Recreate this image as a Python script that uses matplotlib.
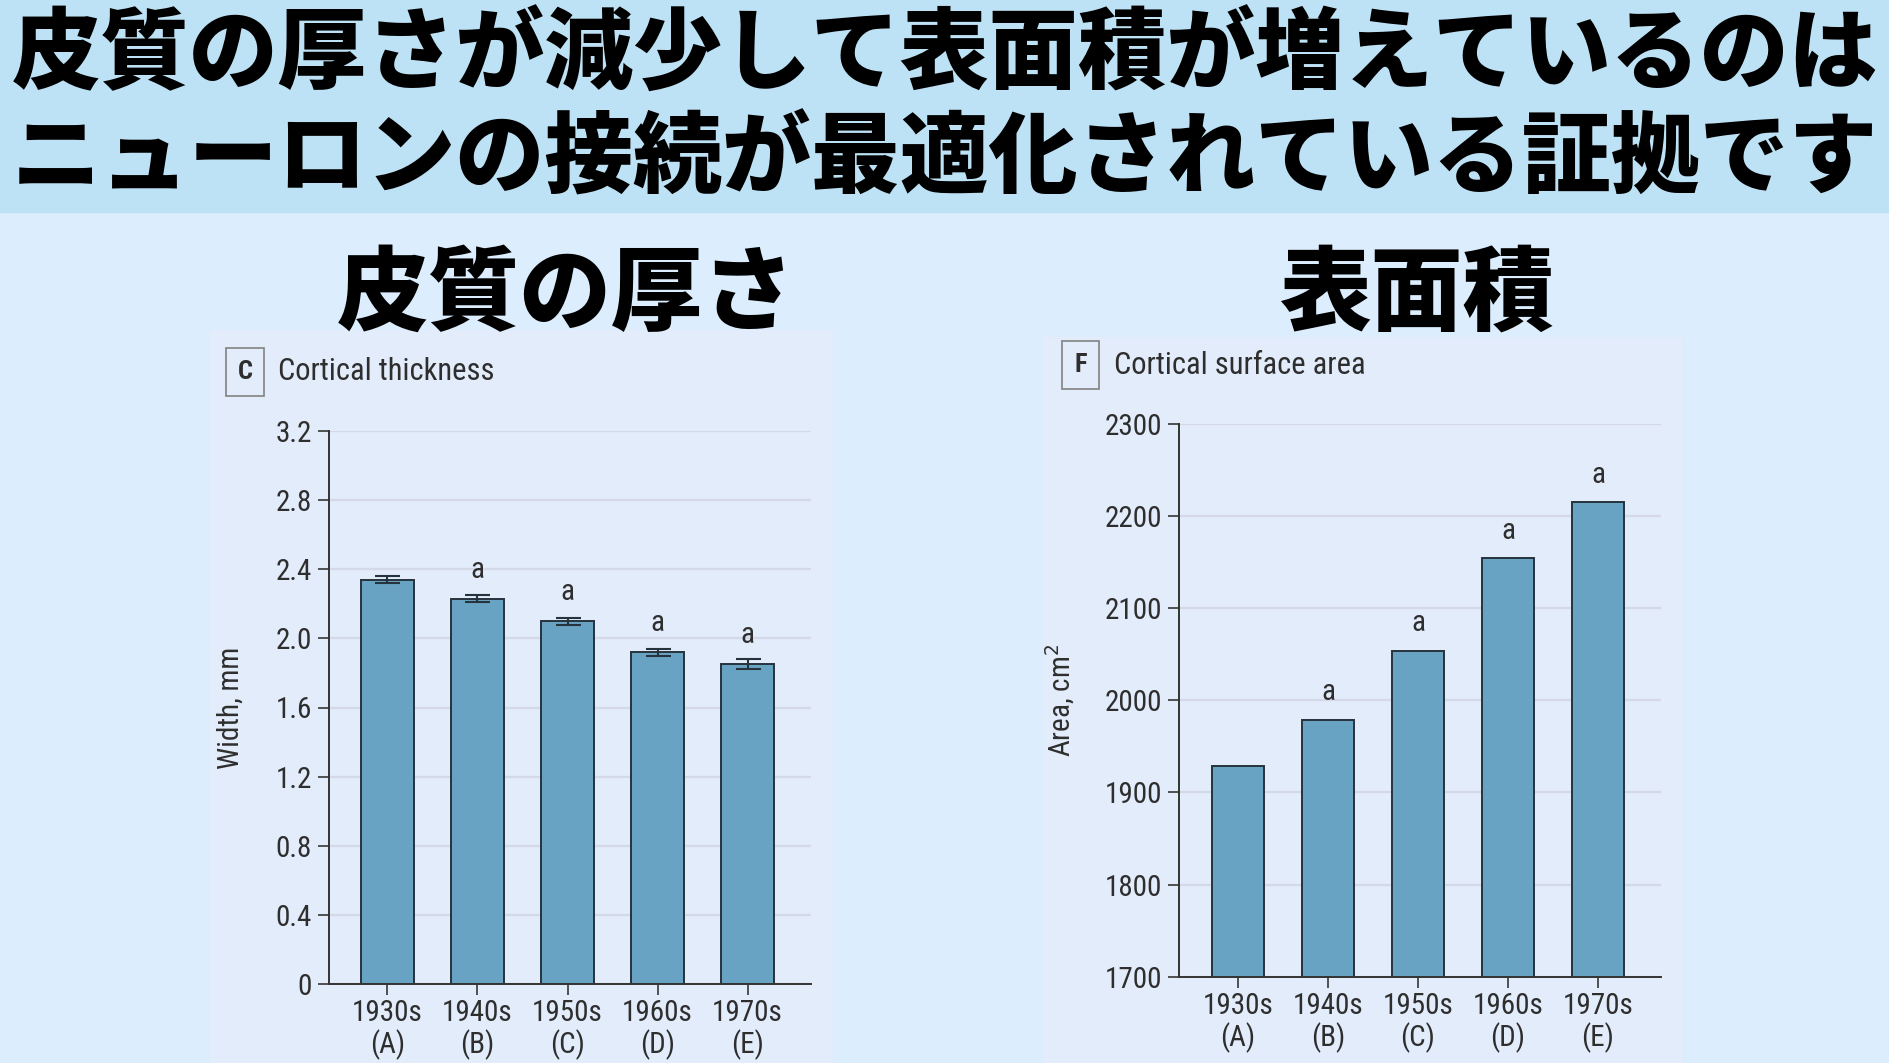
import matplotlib
matplotlib.use('Agg')
import matplotlib.pyplot as plt
from matplotlib import font_manager
from matplotlib.patches import Rectangle
import numpy as np

# data
decades = ['1930s', '1940s', '1950s', '1960s', '1970s']
groups = ['A', 'B', 'C', 'D', 'E']
thickness = [2.34, 2.23, 2.10, 1.92, 1.85]
thickness_err = [0.02, 0.02, 0.02, 0.02, 0.03]
thickness_marks = ['', 'a', 'a', 'a', 'a']
area = [1929, 1979, 2054, 2154, 2215]
area_marks = ['', 'a', 'a', 'a', 'a']

header_lines = ['皮質の厚さが減少して表面積が増えているのは',
                'ニューロンの接続が最適化されている証拠です']
left_heading = '皮質の厚さ'
right_heading = '表面積'

W, H = 1890, 1063
def fx(px):
    return px / W
def fy(py):
    return 1 - py / H

# a narrow sans for the chart text, if one is around
names = {f.name for f in font_manager.fontManager.ttflist}
narrow = [n for n in ['Roboto Condensed', 'Liberation Sans Narrow',
                      'Open Sans Condensed', 'DejaVu Sans Condensed'] if n in names]
jp = ['Noto Sans CJK JP', 'DejaVu Sans']
latin = narrow[:1] + ['DejaVu Sans']
plt.rcParams['font.family'] = latin
plt.rcParams['font.stretch'] = 'condensed'

text_c = '#2e2e2e'
bar_c = '#69a3c3'
edge_c = '#26323c'
grid_c = '#d3d9e6'
fs = 21

fig = plt.figure(figsize=(18.9, 10.63), dpi=100)
fig.patch.set_facecolor('#dcedfd')

# header band and the two pasted panels
fig.add_artist(Rectangle((0, fy(212)), 1, 212 / H, transform=fig.transFigure,
                         color='#bee2f5', zorder=0))
fig.add_artist(Rectangle((fx(210), 0), (832 - 210) / W, (H - 330) / H,
                         transform=fig.transFigure, color='#e3ecfb', zorder=0))
fig.add_artist(Rectangle((fx(1043), 0), (1682 - 1043) / W, (H - 337) / H,
                         transform=fig.transFigure, color='#e3ecfb', zorder=0))

fig.text(0.5, fy(56), header_lines[0], ha='center', va='center', fontsize=64,
         fontweight='black', family=jp, color='black')
fig.text(0.5, fy(160), header_lines[1], ha='center', va='center', fontsize=64,
         fontweight='black', family=jp, color='black')

fig.text(fx(566), fy(295), left_heading, ha='center', va='center', fontsize=66,
         fontweight='black', family=jp, color='black')
fig.text(fx(1416), fy(295), right_heading, ha='center', va='center', fontsize=66,
         fontweight='black', family=jp, color='black')


def panel_title(x_box, x_text, y, letter, title):
    fig.text(fx(x_box), fy(y), letter, ha='center', va='center', fontsize=fs - 2,
             fontweight='bold', color=text_c,
             bbox=dict(boxstyle='square,pad=0.45', fc='none', ec='#8a8a8a', lw=1.3))
    fig.text(fx(x_text), fy(y), title, ha='left', va='center', fontsize=fs + 1,
             color=text_c)


def style_axes(ax):
    ax.set_facecolor('none')
    for s in ['top', 'right']:
        ax.spines[s].set_visible(False)
    for s in ['left', 'bottom']:
        ax.spines[s].set_color('#333333')
        ax.spines[s].set_linewidth(1.4)
    ax.yaxis.grid(True, color=grid_c, lw=1.6)
    ax.set_axisbelow(True)
    ax.tick_params(length=8, width=1.3, color='#444444', labelsize=fs,
                   labelcolor=text_c, pad=4)
    ax.tick_params(axis='x', pad=3)
    ax.set_xticks(np.arange(len(decades)))
    ax.set_xticklabels([f'{d}\n({g})' for d, g in zip(decades, groups)],
                       linespacing=1.08)


x = np.arange(len(decades))

# left: cortical thickness
ax1 = fig.add_axes([fx(328.6), fy(984), (811 - 328.6) / W, (984 - 431) / H])
ax1.bar(x, thickness, width=0.58, color=bar_c, edgecolor=edge_c, linewidth=1.4,
        yerr=thickness_err, capsize=9,
        error_kw=dict(ecolor=edge_c, elinewidth=1.5, capthick=1.5))
ax1.set_xlim(-0.654, 4.705)
ax1.set_ylim(0, 3.2)
yt = np.arange(0, 3.21, 0.4)
ax1.set_yticks(yt)
ax1.set_yticklabels(['0' if v == 0 else f'{v:.1f}' for v in yt])
style_axes(ax1)
ax1.set_ylabel('Width, mm', fontsize=fs, color=text_c)
ax1.yaxis.set_label_coords(-0.175, 0.5)
for xi, v, e, m in zip(x, thickness, thickness_err, thickness_marks):
    if m:
        ax1.annotate(m, (xi, v), xytext=(0, 15), textcoords='offset points',
                     ha='center', va='baseline', fontsize=fs, color=text_c)
panel_title(245, 278, 372, 'C', 'Cortical thickness')

# right: cortical surface area
ax2 = fig.add_axes([fx(1178.6), fy(976.7), (1661 - 1178.6) / W, (976.7 - 424) / H])
ax2.bar(x, area, width=0.57, color=bar_c, edgecolor=edge_c, linewidth=1.4)
ax2.set_xlim(-0.66, 4.70)
ax2.set_ylim(1700, 2300)
ax2.set_yticks(np.arange(1700, 2301, 100))
style_axes(ax2)
ax2.set_ylabel('Area, cm$^2$', fontsize=fs, color=text_c)
ax2.yaxis.set_label_coords(-0.211, 0.5)
for xi, v, m in zip(x, area, area_marks):
    if m:
        ax2.annotate(m, (xi, v), xytext=(0, 14), textcoords='offset points',
                     ha='center', va='baseline', fontsize=fs, color=text_c)
panel_title(1080.6, 1114.5, 365, 'F', 'Cortical surface area')

fig.savefig('out.png', dpi=100, facecolor=fig.get_facecolor())
